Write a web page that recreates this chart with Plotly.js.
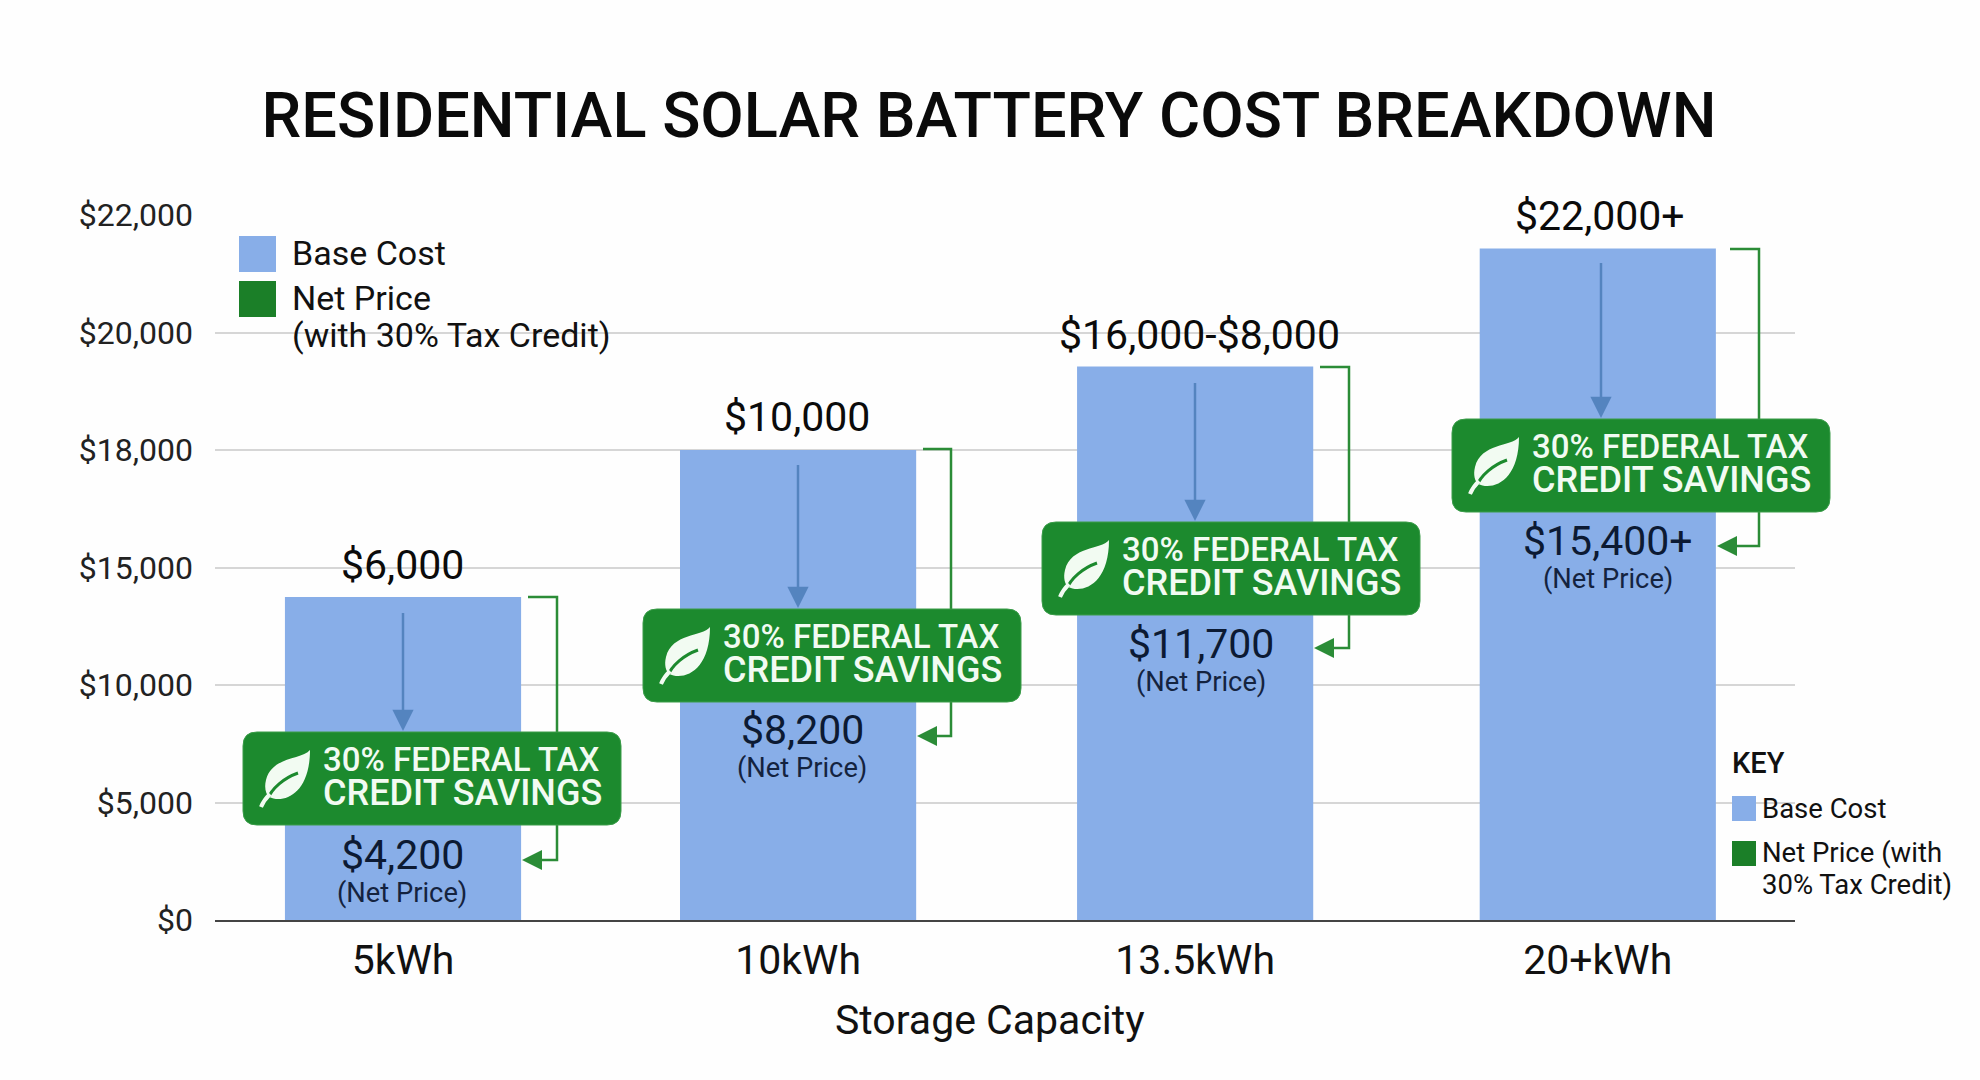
<!DOCTYPE html>
<html>
<head>
<meta charset="utf-8">
<script src="https://cdn.plot.ly/plotly-3.0.1.min.js"></script>
<style>html,body{margin:0;padding:0;background:#fefefe}</style>
</head>
<body>
<div id="chart" style="width:1980px;height:1080px"></div>
<script>
// ---- data ----
const capacities = ['5kWh', '10kWh', '13.5kWh', '20+kWh'];
const capacityPositions = [0, 0.992, 1.989, 3.0];
const baseCost = [13750, 18000, 19420, 21430];
const axisTicks = [0, 5000, 10000, 15000, 18000, 20000, 22000];
const topLabels = ['$6,000', '$10,000', '$16,000-$8,000', '$22,000+'];
const netLabels = ['$4,200', '$8,200', '$11,700', '$15,400+'];

// ---- layout constants (reference pixels) ----
const L = 215, R = 1795, T = 215, B = 920;
const px = v => (v - L) / (R - L);
const py = v => (B - v) / (B - T);
const FONT = 'Roboto, sans-serif';
const BG = '#fefefe', BLUE = '#88aee8', GREEN = '#1c8a2e', LINE_GREEN = '#2b8c37', ARROW_BLUE = '#5484bf';

// equally spaced axis rungs carry unequal dollar steps
function toAxis(v) {
  for (let i = 1; i < axisTicks.length; i++) {
    if (v <= axisTicks[i]) return i - 1 + (v - axisTicks[i - 1]) / (axisTicks[i] - axisTicks[i - 1]);
  }
  return axisTicks.length - 1;
}

const geom = [
  {cx: 403,  badgeX: 243,  badgeY: 732, arrowTop: 603, arrowTip: 731, barTop: 597, right: 521,  brX0: 528,  brX1: 557,  brBot: 860, labelX: 402,  labelDX: 402,  netY: 855, subY: 893, topY: 565, gap: 72},
  {cx: 798,  badgeX: 643,  badgeY: 609, arrowTop: 455, arrowTip: 608, barTop: 449, right: 916,  brX0: 923,  brX1: 951,  brBot: 736, labelX: 802,  labelDX: 797,  netY: 730, subY: 768, topY: 417, gap: 85},
  {cx: 1195, badgeX: 1042, badgeY: 522, arrowTop: 373, arrowTip: 521, barTop: 367, right: 1313, brX0: 1320, brX1: 1349, brBot: 648, labelX: 1201, labelDX: 1199, netY: 644, subY: 682, topY: 335, gap: 153},
  {cx: 1601, badgeX: 1452, badgeY: 419, arrowTop: 253, arrowTip: 418, barTop: 249, right: 1716, brX0: 1730, brX1: 1759, brBot: 546, labelX: 1608, labelDX: 1603, netY: 541, subY: 579, topY: 216, gap: 98}
];

function roundRect(x, y, w, h, r) {
  const X = px, Y = py;
  return `M${X(x+r)},${Y(y)} L${X(x+w-r)},${Y(y)} Q${X(x+w)},${Y(y)} ${X(x+w)},${Y(y+r)} ` +
         `L${X(x+w)},${Y(y+h-r)} Q${X(x+w)},${Y(y+h)} ${X(x+w-r)},${Y(y+h)} ` +
         `L${X(x+r)},${Y(y+h)} Q${X(x)},${Y(y+h)} ${X(x)},${Y(y+h-r)} ` +
         `L${X(x)},${Y(y+r)} Q${X(x)},${Y(y)} ${X(x+r)},${Y(y)} Z`;
}
const P = (ox, oy, a, b) => `${px(ox + a)},${py(oy + b)}`;
const leaf = (ox, oy) => `M${P(ox,oy,50,0)} C${P(ox,oy,42,10)} ${P(ox,oy,12,6)} ${P(ox,oy,6,30)} C${P(ox,oy,4,38)} ${P(ox,oy,6,44)} ${P(ox,oy,9,47)} C${P(ox,oy,24,54)} ${P(ox,oy,50,44)} ${P(ox,oy,50,0)} Z`;
const vein = (ox, oy) => `M${P(ox,oy,7,50)} C${P(ox,oy,12,38)} ${P(ox,oy,24,28)} ${P(ox,oy,38,23)}`;
const stem = (ox, oy) => `M${P(ox,oy,1,57)} C${P(ox,oy,3,52)} ${P(ox,oy,6,48)} ${P(ox,oy,10,44)}`;

const pShape = o => Object.assign({xref: 'paper', yref: 'paper', layer: 'above'}, o);
const patch = (x0, x1, y0, y1) => pShape({type: 'rect', x0: px(x0), x1: px(x1), y0: py(y0), y1: py(y1), fillcolor: BG, line: {width: 0}, layer: 'between'});
const shapes = [
  // white patches that interrupt the gridlines behind legends and labels
  patch(280, 622, 285, 355),
  patch(1724, 1980, 745, 905),
  // legend swatches
  pShape({type: 'rect', x0: px(239), x1: px(276), y0: py(236), y1: py(272), fillcolor: BLUE, line: {width: 0}}),
  pShape({type: 'rect', x0: px(239), x1: px(276), y0: py(281), y1: py(317), fillcolor: '#1b7f28', line: {width: 0}}),
  pShape({type: 'rect', x0: px(1732), x1: px(1756), y0: py(796), y1: py(821), fillcolor: BLUE, line: {width: 0}}),
  pShape({type: 'rect', x0: px(1732), x1: px(1756), y0: py(841), y1: py(866), fillcolor: '#1b7f28', line: {width: 0}})
];
geom.forEach(g => {
  shapes.push(patch(g.labelDX - g.gap, g.labelDX + g.gap, g.topY - 22, g.topY + 22));
  shapes.push(pShape({type: 'path',
    path: `M${px(g.brX0)},${py(g.barTop)} L${px(g.brX1)},${py(g.barTop)} L${px(g.brX1)},${py(g.brBot)} L${px(g.right + 8)},${py(g.brBot)}`,
    line: {color: LINE_GREEN, width: 2.5}}));
});
geom.forEach(g => {
  const ox = g.badgeX + 17, oy = g.badgeY + 18;
  shapes.push(pShape({type: 'path', path: roundRect(g.badgeX, g.badgeY, 378, 93, 14), fillcolor: GREEN, line: {color: '#3a9c49', width: 1}}));
  shapes.push(pShape({type: 'path', path: leaf(ox, oy), fillcolor: '#f2fbf2', line: {width: 0}}));
  shapes.push(pShape({type: 'path', path: vein(ox, oy), line: {color: GREEN, width: 3}}));
  shapes.push(pShape({type: 'path', path: stem(ox, oy), line: {color: '#f2fbf2', width: 4}}));
});

const note = (x, y, text, size, extra) => Object.assign({
  xref: 'paper', yref: 'paper', x: px(x), y: py(y), text, showarrow: false,
  font: {family: FONT, size, color: '#111'}, xanchor: 'center', yanchor: 'middle'
}, extra || {});

const annotations = [
  note(290, 253, 'Base Cost', 34, {xanchor: 'left'}),
  note(290, 298, 'Net Price', 34, {xanchor: 'left'}),
  note(290, 335, '(with 30% Tax Credit)', 34, {xanchor: 'left'}),
  note(1730, 763, 'KEY', 29, {xanchor: 'left', font: {family: FONT, size: 29, color: '#111', weight: 500}}),
  note(1760, 808, 'Base Cost', 27.5, {xanchor: 'left'}),
  note(1760, 852, 'Net Price (with', 27.5, {xanchor: 'left'}),
  note(1760, 884, '30% Tax Credit)', 27.5, {xanchor: 'left'}),
  note(990, 1020, 'Storage Capacity', 41)
];
geom.forEach((g, i) => {
  annotations.push({xref: 'x', yref: 'paper', x: capacityPositions[i], y: py(g.topY), xshift: g.labelDX - g.cx,
    text: topLabels[i], showarrow: false,
    font: {family: FONT, size: 41, color: '#0b0b0b'}, xanchor: 'center', yanchor: 'middle'});
  // annotation font size sets the line pitch (1.3em); the spans set the glyph size
  annotations.push(note(g.badgeX + 78, g.badgeY + 45,
    '<span style="font-size:33px">30% FEDERAL TAX</span><br><span style="font-size:36px">CREDIT SAVINGS</span>', 26,
    {xanchor: 'left', align: 'left', font: {family: FONT, size: 26, color: '#f2fbf2', weight: 500}}));
  annotations.push(note(g.labelX, g.netY, netLabels[i], 41, {font: {family: FONT, size: 41, color: '#0c1a33'}}));
  annotations.push(note(g.labelX, g.subY, '(Net Price)', 27.3, {font: {family: FONT, size: 27.3, color: '#14233f'}}));
  // blue drop arrow
  annotations.push({xref: 'paper', yref: 'paper', x: px(g.cx), y: py(g.arrowTip), ax: 0, ay: g.arrowTop - g.arrowTip,
    text: ' ', showarrow: true, arrowhead: 2, arrowsize: 1.7, arrowwidth: 2.5, arrowcolor: ARROW_BLUE, standoff: 0});
  // green return arrow
  annotations.push({xref: 'paper', yref: 'paper', x: px(g.right + 1), y: py(g.brBot), ax: 22, ay: 0,
    text: ' ', showarrow: true, arrowhead: 2, arrowsize: 1.6, arrowwidth: 2.5, arrowcolor: LINE_GREEN, standoff: 0});
});

const traces = [{
  type: 'bar',
  x: capacityPositions,
  y: baseCost.map(toAxis),
  width: 0.593,
  marker: {color: BLUE, line: {width: 0}},
  name: 'Base Cost',
  hoverinfo: 'skip'
}];

const layout = {
  width: 1980, height: 1080,
  margin: {l: L, r: 1980 - R, t: T, b: 1080 - B, pad: 0},
  paper_bgcolor: BG, plot_bgcolor: BG,
  showlegend: false,
  title: {text: 'RESIDENTIAL SOLAR BATTERY COST BREAKDOWN',
    font: {family: FONT, size: 63.1, color: '#0a0a0a', weight: 500},
    x: 989 / 1980, xanchor: 'center', xref: 'container', y: 1 - 115 / 1080, yref: 'container', yanchor: 'middle'},
  xaxis: {
    range: [-0.4721, 3.4952], tickmode: 'array', tickvals: capacityPositions, ticktext: capacities,
    showgrid: false, zeroline: false, showline: true, linecolor: '#444', linewidth: 2, ticks: '',
    tickfont: {family: FONT, size: 41, color: '#111'}, ticklabelstandoff: 3
  },
  yaxis: {
    range: [0, 6], tickmode: 'array', tickvals: axisTicks.map((_, i) => i),
    ticktext: axisTicks.map(v => '$' + v.toLocaleString('en-US')),
    showgrid: true, gridcolor: '#d6d6d6', gridwidth: 2, zeroline: false, showline: false, ticks: '',
    tickfont: {family: FONT, size: 32, color: '#222'}, ticklabelstandoff: 21
  },
  shapes, annotations
};
Plotly.newPlot('chart', traces, layout, {displayModeBar: false, staticPlot: true});
</script>
</body>
</html>
